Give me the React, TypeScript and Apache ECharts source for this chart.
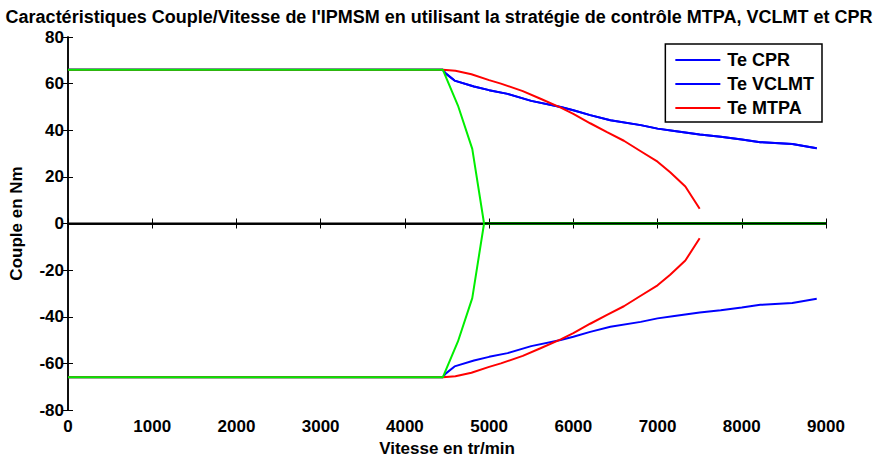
import React, { useEffect, useRef } from "react";
import * as echarts from "echarts";

const xTicks = [0, 1000, 2000, 3000, 4000, 5000, 6000, 7000, 8000, 9000];
const yTicks = [-80, -60, -40, -20, 0, 20, 40, 60, 80];

// Te CPR / Te VCLMT (identical curves), upper half
const blueSpeed = [0, 4450, 4480, 4590, 4820, 5000, 5220, 5500, 5850, 6000, 6200, 6440, 6800, 7000, 7200, 7500, 7750, 8000, 8220, 8600, 8890];
const blueTorque = [66, 66, 64.5, 61.3, 58.8, 57.2, 55.6, 52.6, 50, 48.6, 46.5, 44.3, 42.2, 40.7, 39.7, 38.2, 37.2, 36, 34.9, 34.1, 32.3];

// Te MTPA, upper half
const redSpeed = [0, 4450, 4600, 4790, 5000, 5140, 5400, 5610, 5850, 6000, 6200, 6400, 6600, 6800, 7000, 7150, 7330, 7500];
const redTorque = [66, 66, 65.5, 64, 61.5, 60, 56.8, 53.5, 49.7, 47, 43, 39.2, 35.5, 31, 26.5, 22, 15.9, 6.3];

// green limit curve, upper half, and its zero segment
const greenSpeed = [0, 4450, 4630, 4800, 4940];
const greenTorque = [66, 66, 50.6, 32, 0];
const greenZeroSpeed = [4940, 9000];
const greenZeroTorque = [0, 0];

const zeroSpeed = [0, 9000];
const zeroTorque = [0, 0];

const pts = (xs: number[], ys: number[], sign = 1) => xs.map((x, i) => [x, sign * ys[i] + 0]);

const FONT = "'Liberation Sans', Arial, sans-serif";

export default function App() {
  const ref = useRef<HTMLDivElement>(null);
  useEffect(() => {
    if (!ref.current) return;
    const chart = echarts.init(ref.current, undefined, { renderer: "svg" });
    const blue = "#0000ff";
    const red = "#ff0000";
    const green = "#00ee00";
    const lineS = (name: string, data: number[][], color: string, width = 2, z = 2) => ({
      type: "line",
      name,
      data,
      symbol: "none",
      lineStyle: { color, width },
      itemStyle: { color },
      z,
      silent: true,
    });
    const axisCommon = {
      type: "value",
      axisLine: { show: true, lineStyle: { color: "#000", width: 1.5 } },
      axisTick: { show: true, inside: true, length: 5, lineStyle: { color: "#000", width: 1 } },
      splitLine: { show: false },
    };
    const labelStyle = { fontFamily: FONT, fontWeight: "bold", fontSize: 17, color: "#000" };
    chart.setOption({
      animation: false,
      backgroundColor: "#fff",
      textStyle: { fontFamily: FONT },
      title: {
        text: "Caractéristiques Couple/Vitesse de l'IPMSM en utilisant la stratégie de contrôle MTPA, VCLMT et CPR",
        left: 439,
        textAlign: "center",
        top: 8,
        padding: 0,
        textStyle: { fontFamily: FONT, fontWeight: "bold", fontSize: 18, lineHeight: 18, color: "#000" },
      },
      grid: { left: 66, right: 54, top: 37, bottom: 53 },
      legend: {
        orient: "vertical",
        right: 58,
        top: 44,
        data: [
          { name: "Te CPR", icon: "rect" },
          { name: "Te VCLMT", icon: "rect" },
          { name: "Te MTPA", icon: "rect" },
        ],
        itemWidth: 45,
        itemHeight: 2,
        itemGap: 6,
        padding: [7, 8, 5, 10],
        backgroundColor: "#fff",
        borderColor: "#000",
        borderWidth: 1.5,
        borderRadius: 0,
        textStyle: { fontFamily: FONT, fontWeight: "bold", fontSize: 18, color: "#000", padding: [0, 0, 0, 2] },
      },
      xAxis: [
        {
          ...axisCommon,
          min: 0,
          max: 9000,
          interval: 1000,
          position: "bottom",
          name: "Vitesse en tr/min",
          nameLocation: "middle",
          nameGap: 30,
          nameTextStyle: labelStyle,
          axisLabel: { ...labelStyle, margin: 8, formatter: (v: number) => String(v) },
        },
        {
          ...axisCommon,
          min: 0,
          max: 9000,
          interval: 1000,
          position: "top",
          axisLabel: { show: false },
        },
      ],
      yAxis: [
        {
          ...axisCommon,
          min: -80,
          max: 80,
          interval: 20,
          position: "left",
          name: "Couple en Nm",
          nameLocation: "middle",
          nameGap: 43,
          nameTextStyle: labelStyle,
          axisLabel: { ...labelStyle, lineHeight: 15, margin: 4, formatter: (v: number) => String(v) },
        },
        {
          ...axisCommon,
          min: -80,
          max: 80,
          interval: 20,
          position: "right",
          axisLabel: { show: false },
        },
      ],
      series: [
        lineS("Te CPR", pts(blueSpeed, blueTorque), blue),
        lineS("Te VCLMT", pts(blueSpeed, blueTorque), blue),
        lineS("Te CPR ", pts(blueSpeed, blueTorque, -1), blue),
        lineS("Te MTPA", pts(redSpeed, redTorque), red),
        lineS("Te MTPA ", pts(redSpeed, redTorque, -1), red),
        lineS("limit zero", pts(greenZeroSpeed, greenZeroTorque), green, 3, 3),
        lineS("zero", pts(zeroSpeed, zeroTorque), "#000", 2, 4),
        lineS("limit", pts(greenSpeed, greenTorque), green, 2, 5),
        lineS("limit ", pts(greenSpeed, greenTorque, -1), green, 2, 5),
      ],
    });
    return () => chart.dispose();
  }, []);
  return <div ref={ref} style={{ position: "absolute", left: 0, top: 0, width: 880, height: 463 }} />;
}
